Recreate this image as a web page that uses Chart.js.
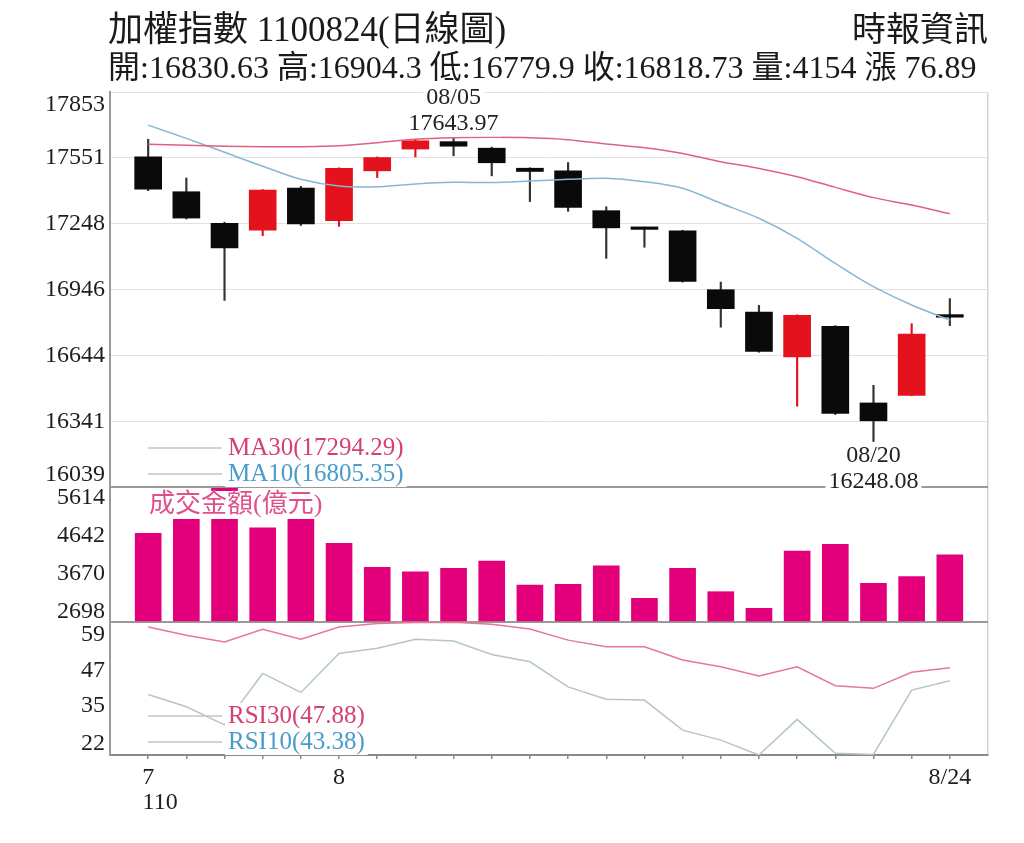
<!DOCTYPE html>
<html lang="zh-Hant">
<head>
<meta charset="utf-8">
<title>加權指數 日線圖</title>
<script src="https://cdn.jsdelivr.net/npm/chart.js@4/dist/chart.umd.min.js"></script>
<style>
  html, body { margin: 0; padding: 0; background: #fff; }
  body { width: 1024px; height: 843px; position: relative; overflow: hidden;
         font-family: "Liberation Serif", "Noto Sans CJK TC", serif; color: #1a1a1a; }
  #chart { position: absolute; left: 0; top: 0; }
  .head { position: absolute; white-space: nowrap; z-index: 2; }
  #title { left: 108px; top: 11px; font-size: 35px; line-height: 38px; }
  #source { right: 36px; top: 11px; font-size: 34px; line-height: 38px; }
  #quote { left: 108px; top: 49px; font-size: 32px; line-height: 36px; }
</style>
</head>
<body>
<canvas id="chart" width="1024" height="843"></canvas>
<div class="head" id="title"></div>
<div class="head" id="source">時報資訊</div>
<div class="head" id="quote"></div>
<script>
const reportDate = '1100824';
const dates = ['07/26', '07/27', '07/28', '07/29', '07/30', '08/02', '08/03', '08/04', '08/05', '08/06', '08/09',
               '08/10', '08/11', '08/12', '08/13', '08/16', '08/17', '08/18', '08/19', '08/20', '08/23', '08/24'];
const xTickLabels = ['7', '', '', '', '', '8', '', '', '', '', '', '', '', '', '', '', '', '', '', '', '', '8/24'];
const yearLabel = '110';

const opens  = [17555, 17395, 17250, 17219, 17412, 17262, 17491, 17591, 17625, 17595, 17503,
                17491, 17308, 17226, 17216, 16945, 16842, 16636, 16777, 16425, 16460, 16830.63];
const highs  = [17636, 17458, 17255, 17405, 17420, 17505, 17555, 17635, 17643.97, 17600, 17505,
                17529, 17326, 17233, 17218, 16980, 16873, 16830, 16780, 16506, 16789, 16904.3];
const lows   = [17400, 17270, 16896, 17193, 17240, 17236, 17460, 17555, 17560, 17468, 17350,
                17305, 17089, 17140, 16980, 16773, 16658, 16410, 16372, 16248.08, 16458, 16779.9];
const closes = [17407, 17274, 17137, 17403, 17247, 17502, 17552, 17629, 17604, 17528, 17488,
                17323, 17229, 17222, 16983, 16858, 16662, 16827, 16377, 16343, 16741.84, 16818.73];

const ma30 = [17613, 17608, 17604, 17602, 17602, 17606, 17620, 17636, 17643, 17645, 17643,
              17634, 17614, 17597, 17571, 17533, 17502, 17464, 17415, 17368, 17334, 17294.29];
const ma10 = [17701, 17640, 17576, 17512, 17452, 17421, 17418, 17431, 17438, 17437, 17444,
              17452, 17457, 17441, 17411, 17342, 17273, 17181, 17066, 16959, 16875, 16805.35];

const volumes = [4707, 5300, 5860, 4850, 5250, 4451, 3838, 3725, 3812, 3999, 3385,
                 3403, 3878, 3045, 3812, 3214, 2789, 4254, 4426, 3428, 3598, 4154];

const rsi30 = [61.8, 59.0, 56.7, 61.0, 57.6, 61.8, 63.0, 63.3, 63.4, 62.7, 61.1,
               57.3, 55.0, 55.0, 50.5, 48.2, 45.0, 48.2, 41.7, 40.8, 46.3, 47.88];
const rsi10 = [38.7, 34.5, 28.3, 45.9, 39.4, 52.7, 54.5, 57.6, 57.0, 52.4, 49.9,
               41.3, 37.1, 36.8, 26.5, 23.1, 18.0, 30.2, 18.6, 18.2, 40.2, 43.38];

const priceTicks = [16039, 16341, 16644, 16946, 17248, 17551, 17853];
const volTicks = [2698, 3670, 4642, 5614];
const rsiTicks = [22, 35, 47, 59];
const VOL_MIN = 2439, VOL_MAX = 5891;
const RSI_MIN = 18, RSI_MAX = 63.5;

const FONT = '"Liberation Serif", "Noto Sans CJK TC", serif';
Chart.defaults.font.family = FONT;
Chart.defaults.color = '#1e1e1e';

const RED = '#e3121c';
const BLACK = '#0a0a0a';
const last = closes.length - 1;
const idx = dates.map((d, i) => i);
const upDown = idx.map(i => closes[i] >= opens[i] ? RED : BLACK);

document.getElementById('title').textContent = `加權指數 ${reportDate}(日線圖)`;
document.getElementById('quote').textContent =
  `開:${opens[last]} 高:${highs[last]} 低:${lows[last]} 收:${closes[last]} 量:${volumes[last]} 漲 ${(closes[last] - closes[last - 1]).toFixed(2)}`;

function textBox(ctx, text, x, y, color, align) {
  ctx.textAlign = align || 'center';
  const w = ctx.measureText(text).width;
  const left = align === 'left' ? x : x - w / 2;
  ctx.fillStyle = '#fff';
  ctx.fillRect(left - 3, y - 13, w + 6, 26);
  ctx.fillStyle = color;
  ctx.fillText(text, x, y);
}

// labels, legends and hi/lo marks drawn on top of the datasets
const overlay = {
  id: 'overlay',
  afterDatasetsDraw(chart) {
    const { ctx, chartArea: area, scales } = chart;
    const { x, yPrice, yVol, yRsi } = scales;
    ctx.save();
    ctx.textBaseline = 'middle';

    ctx.font = '24px ' + FONT;
    const hi = highs.indexOf(Math.max(...highs));
    const lo = lows.indexOf(Math.min(...lows));
    const hx = x.getPixelForValue(hi), hy = yPrice.getPixelForValue(highs[hi]);
    textBox(ctx, dates[hi], hx, hy - 40, '#222');
    textBox(ctx, highs[hi].toFixed(2), hx, hy - 14, '#222');
    const lx = x.getPixelForValue(lo), ly = yPrice.getPixelForValue(lows[lo]);
    textBox(ctx, dates[lo], lx, ly + 14, '#222');
    textBox(ctx, lows[lo].toFixed(2), lx, ly + 40, '#222');

    const rows = [
      { text: `MA30(${ma30[last].toFixed(2)})`, color: '#d6426f', y: yPrice.bottom - 39 },
      { text: `MA10(${ma10[last].toFixed(2)})`, color: '#4a9ccb', y: yPrice.bottom - 13 },
      { text: `RSI30(${rsi30[last].toFixed(2)})`, color: '#d6426f', y: yRsi.bottom - 39 },
      { text: `RSI10(${rsi10[last].toFixed(2)})`, color: '#4a9ccb', y: yRsi.bottom - 13 }
    ];
    ctx.font = '25px ' + FONT;
    rows.forEach(r => {
      ctx.strokeStyle = '#c4c4c4';
      ctx.lineWidth = 1.5;
      ctx.beginPath();
      ctx.moveTo(area.left + 38, r.y);
      ctx.lineTo(area.left + 112, r.y);
      ctx.stroke();
      textBox(ctx, r.text, area.left + 118, r.y, r.color, 'left');
    });

    ctx.font = '26px ' + FONT;
    const vt = '成交金額(億元)';
    const vw = ctx.measureText(vt).width;
    const vy = yVol.top + 18;
    ctx.fillStyle = '#fff';
    ctx.fillRect(area.left + 35, vy - 14, vw + 8, 28);
    ctx.fillStyle = '#e0508a';
    ctx.textAlign = 'left';
    ctx.fillText(vt, area.left + 39, vy);
    ctx.restore();
  }
};

const yCommon = {
  type: 'linear',
  position: 'left',
  stack: 'panes',
  border: { color: '#9a9a9a', width: 2 },
  ticks: { autoSkip: false, padding: 5, color: '#1e1e1e', font: { size: 24, lineHeight: 1.05 } },
  afterFit: s => { s.width = 110; }
};

new Chart(document.getElementById('chart'), {
  data: {
    datasets: [
      { type: 'line', label: 'MA30', yAxisID: 'yPrice', order: 0,
        data: idx.map(i => ({ x: i, y: ma30[i] })),
        borderColor: '#e06080', borderWidth: 1.5, pointRadius: 0, tension: 0.3 },
      { type: 'line', label: 'MA10', yAxisID: 'yPrice', order: 0,
        data: idx.map(i => ({ x: i, y: ma10[i] })),
        borderColor: '#86b8d4', borderWidth: 1.5, pointRadius: 0, tension: 0.3 },
      { type: 'bar', label: 'body', yAxisID: 'yPrice', order: 1, grouped: false,
        data: idx.map(i => ({ x: i, y: [opens[i], closes[i]] })),
        backgroundColor: upDown, barThickness: 27, minBarLength: 2.5 },
      { type: 'bar', label: 'wick', yAxisID: 'yPrice', order: 2, grouped: false,
        data: idx.map(i => ({ x: i, y: [lows[i], highs[i]] })),
        backgroundColor: upDown.map(c => c === RED ? RED : '#333'), barThickness: 1.5 },
      { type: 'bar', label: '成交金額', yAxisID: 'yVol', order: 1, grouped: false,
        data: idx.map(i => ({ x: i, y: volumes[i] })),
        base: VOL_MIN, backgroundColor: '#e4007a', barThickness: 26 },
      { type: 'line', label: 'RSI30', yAxisID: 'yRsi', order: 0,
        data: idx.map(i => ({ x: i, y: rsi30[i] })),
        borderColor: '#e57896', borderWidth: 1.5, pointRadius: 0, tension: 0 },
      { type: 'line', label: 'RSI10', yAxisID: 'yRsi', order: 0,
        data: idx.map(i => ({ x: i, y: rsi10[i] })),
        borderColor: '#b4c5cc', borderWidth: 1.5, pointRadius: 0, tension: 0 }
    ]
  },
  options: {
    responsive: false,
    devicePixelRatio: 1,
    animation: false,
    layout: { padding: { top: 92, right: 36, left: 0, bottom: 0 } },
    plugins: { legend: { display: false }, tooltip: { enabled: false } },
    scales: {
      x: {
        type: 'linear', position: 'bottom', min: -1, max: 22, offset: false,
        afterBuildTicks: s => { s.ticks = idx.concat([22]).map(v => ({ value: v })); },
        afterFit: s => { s.height = 88; },
        border: { color: '#8a8a8a', width: 2 },
        grid: {
          offset: false,
          color: c => c.tick && c.tick.value === 22 ? '#d4d4d4' : 'transparent',
          tickColor: c => c.tick && c.tick.value === 22 ? 'transparent' : '#8a8a8a',
          tickLength: 4, lineWidth: 1.5
        },
        ticks: {
          autoSkip: false, maxRotation: 0, padding: 6, color: '#1e1e1e',
          font: { size: 24, lineHeight: 1.05 },
          callback: v => v === 0 ? [xTickLabels[0], '\u2007\u2007' + yearLabel] : (xTickLabels[v] || '')
        }
      },
      yPrice: {
        ...yCommon, weight: 3, stackWeight: 395,
        min: priceTicks[0], max: priceTicks[priceTicks.length - 1],
        afterBuildTicks: s => { s.ticks = priceTicks.map(v => ({ value: v })); },
        grid: {
          drawTicks: false,
          color: c => c.tick && c.tick.value === priceTicks[0] ? '#9a9a9a' : '#e2e2e2',
          lineWidth: c => c.tick && c.tick.value === priceTicks[0] ? 2 : 1
        },
        ticks: {
          ...yCommon.ticks,
          callback: v => v === priceTicks[priceTicks.length - 1] ? ['', String(v)]
                       : v === priceTicks[0] ? [String(v), ''] : String(v)
        }
      },
      yVol: {
        ...yCommon, weight: 2, stackWeight: 135, min: VOL_MIN, max: VOL_MAX,
        afterBuildTicks: s => { s.ticks = [VOL_MIN].concat(volTicks).map(v => ({ value: v })); },
        grid: {
          drawTicks: false, lineWidth: 2,
          color: c => c.tick && c.tick.value === VOL_MIN ? '#9a9a9a' : 'transparent'
        },
        ticks: { ...yCommon.ticks, callback: v => volTicks.includes(v) ? String(v) : '' }
      },
      yRsi: {
        ...yCommon, weight: 1, stackWeight: 133, min: RSI_MIN, max: RSI_MAX,
        afterBuildTicks: s => { s.ticks = rsiTicks.map(v => ({ value: v })); },
        grid: { drawTicks: false, drawOnChartArea: false },
        ticks: { ...yCommon.ticks, callback: v => String(v) }
      }
    }
  },
  plugins: [overlay]
});
</script>
</body>
</html>
